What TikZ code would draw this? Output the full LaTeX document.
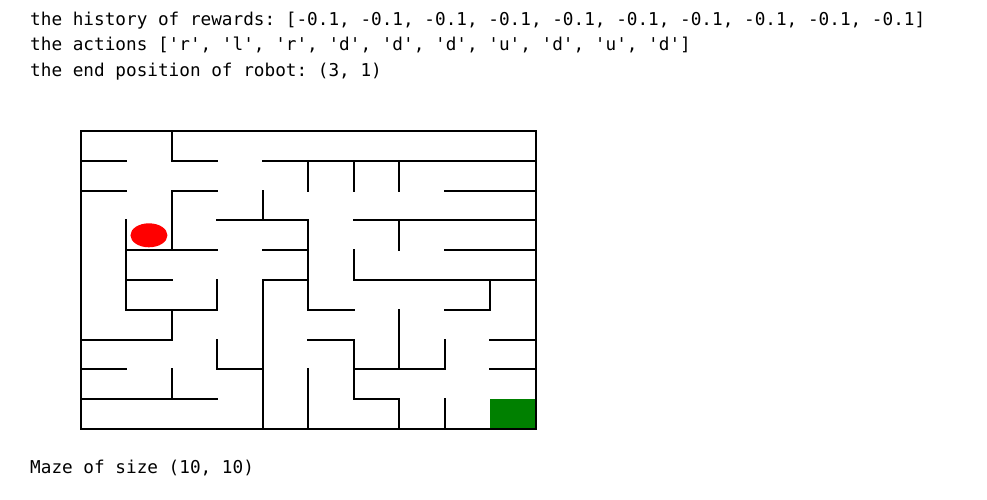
\documentclass[tikz,border=0pt]{standalone}
\usepackage{fontspec}
\setmonofont{DejaVu Sans Mono}
\usepackage{tikz}
\definecolor{goalgreen}{RGB}{0,128,0}

\begin{document}
\begin{tikzpicture}[x=1pt, y=-1pt,
  wall/.style={line width=1.9pt, line cap=rect},
  printout/.style={anchor=base west, inner sep=0pt, font=\ttfamily\fontsize{17.7}{20}\selectfont}]
\useasboundingbox (0,0) rectangle (987,500);

% Printed output
\node[printout] (rewards) at (30,25.5) {the history of rewards: [-0.1, -0.1, -0.1, -0.1, -0.1, -0.1, -0.1, -0.1, -0.1, -0.1]};
\node[printout] (actions) at (30,51) {the actions ['r', 'l', 'r', 'd', 'd', 'd', 'u', 'd', 'u', 'd']};
\node[printout] (endpos) at (30,76.5) {the end position of robot: (3, 1)};
\node[printout] (mazesize) at (30,473) {Maze of size (10, 10)};

% Maze, one unit per cell
\begin{scope}[shift={(80.7pt,-131pt)}, x=45.5pt, y=-29.8pt]
% Goal cell and robot
\fill[goalgreen] (9,9) rectangle (10,10);
\fill[red] (1.5,3.5) ellipse [x radius=18.5pt, y radius=12pt];

% Outer walls
\draw[wall] (0,0) rectangle (10,10);

% Horizontal walls: row/from/to
\foreach \r/\a/\b in {1/0/1, 1/2/3, 1/4/10, 2/0/1, 2/2/3, 2/8/10, 3/3/5, 3/6/10,
    4/1/3, 4/4/5, 4/8/10, 5/1/2, 5/4/5, 5/6/10, 6/1/3, 6/5/6, 6/8/9,
    7/0/2, 7/5/6, 7/9/10, 8/0/1, 8/3/4, 8/6/8, 8/9/10, 9/0/3, 9/6/7}{
  \draw[wall] (\a,\r) -- (\b,\r);
}

% Vertical walls: column/from/to
\foreach \c/\a/\b in {1/3/6, 2/0/1, 2/2/4, 2/6/7, 2/8/9, 3/5/6, 3/7/8, 4/2/3, 4/5/10,
    5/1/2, 5/3/6, 5/8/10, 6/1/2, 6/4/5, 6/7/9, 7/1/2, 7/3/4, 7/6/8, 7/9/10,
    8/7/8, 8/9/10, 9/5/6}{
  \draw[wall] (\c,\a) -- (\c,\b);
}
\end{scope}
\end{tikzpicture}
\end{document}
